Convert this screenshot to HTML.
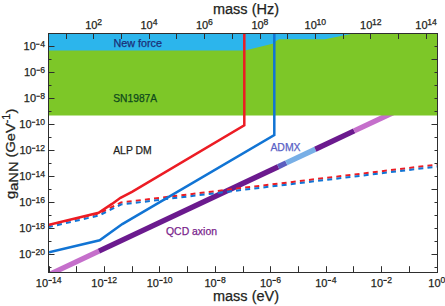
<!DOCTYPE html>
<html><head><meta charset="utf-8"><style>
html,body{margin:0;padding:0;background:#fff;width:445px;height:306px;overflow:hidden}
svg{display:block}
</style></head><body>
<svg width="445" height="306" viewBox="0 0 445 306" font-family='"Liberation Sans", sans-serif'><rect x="0" y="0" width="445" height="306" fill="#fff"/>
<clipPath id="pc"><rect x="49" y="33" width="388" height="239"/></clipPath>
<g clip-path="url(#pc)">
<line x1="40" y1="278.83" x2="98.9" y2="251.11" stroke="#c56fcb" stroke-width="5.3"/>
<line x1="98.9" y1="251.11" x2="278.2" y2="166.73" stroke="#6b1a8e" stroke-width="5.3"/>
<line x1="278.2" y1="166.73" x2="286.3" y2="162.92" stroke="#5c5fc0" stroke-width="5.3"/>
<line x1="286.3" y1="162.92" x2="315.3" y2="149.27" stroke="#78afe6" stroke-width="5.3"/>
<line x1="315.3" y1="149.27" x2="354.2" y2="130.96" stroke="#6b1a8e" stroke-width="5.3"/>
<line x1="354.2" y1="130.96" x2="420" y2="100.00" stroke="#c56fcb" stroke-width="5.3"/>
<rect x="49" y="33" width="388" height="18" fill="#2cb5ec"/>
<polygon points="49,50.5 245,50.5 273.5,43.5 275.4,41.5 279,39.3 325,39.3 356,33 437,33 437,115.5 49,115.5" fill="#7dc728"/>
<polyline points="49,225 99,213.5 121,202.5 437,164.6" fill="none" stroke="#ec1c24" stroke-width="2" stroke-dasharray="5 4.18" stroke-dashoffset="1.0"/>
<polyline points="49,227 99,215.5 121,204.5 437,166.6" fill="none" stroke="#1174d4" stroke-width="2" stroke-dasharray="5 4.18" stroke-dashoffset="1.0"/>
<polyline points="49,224.8 98.6,212.8 112,203.9 120.5,197.8 132,191.8 244.3,125.4 244.3,30" fill="none" stroke="#ec1c24" stroke-width="2.5" stroke-linejoin="miter"/>
<polyline points="49,252.2 99.7,240.3 122.3,224.1 274.3,135.1 274.3,30" fill="none" stroke="#1174d4" stroke-width="2.5" stroke-linejoin="miter"/>
</g>
<rect x="48.5" y="33.5" width="389" height="239" fill="none" stroke="#2e2e2e" stroke-width="1"/>
<path d="M49.5,272v-5.8 M76.5,272v-5.8 M104.5,272v-5.8 M132.5,272v-5.8 M159.5,272v-5.8 M187.5,272v-5.8 M215.5,272v-5.8 M243.5,272v-5.8 M270.5,272v-5.8 M298.5,272v-5.8 M326.5,272v-5.8 M353.5,272v-5.8 M381.5,272v-5.8 M409.5,272v-5.8 M437.5,272v-5.8 M66.5,33.5v5.5 M93.5,33.5v5.5 M121.5,33.5v5.5 M149.5,33.5v5.5 M176.5,33.5v5.5 M204.5,33.5v5.5 M232.5,33.5v5.5 M260.5,33.5v5.5 M287.5,33.5v5.5 M315.5,33.5v5.5 M343.5,33.5v5.5 M370.5,33.5v5.5 M398.5,33.5v5.5 M426.5,33.5v5.5 M48.5,46.5h6 M437.5,46.5h-3 M48.5,59.5h3 M437.5,59.5h-6 M48.5,72.5h6 M437.5,72.5h-3 M48.5,85.5h3 M437.5,85.5h-3 M48.5,98.5h6 M437.5,98.5h-3 M48.5,111.5h3 M437.5,111.5h-3 M48.5,124.5h6 M437.5,124.5h-6 M48.5,137.5h3 M437.5,137.5h-3 M48.5,150.5h6 M437.5,150.5h-3 M48.5,163.5h3 M437.5,163.5h-3 M48.5,176.5h6 M437.5,176.5h-3 M48.5,189.5h3 M437.5,189.5h-6 M48.5,202.5h6 M437.5,202.5h-3 M48.5,215.5h3 M437.5,215.5h-3 M48.5,228.5h6 M437.5,228.5h-3 M48.5,241.5h3 M437.5,241.5h-3 M48.5,254.5h6 M437.5,254.5h-6 M48.5,267.5h3 M437.5,267.5h-3" stroke="#2e2e2e" stroke-width="1" fill="none"/>
<text x="85.17" y="28.50" font-size="11" fill="#231f20" stroke="#231f20" stroke-width="0.25">10</text><text x="97.24" y="24.80" font-size="8.6" fill="#231f20" stroke="#231f20" stroke-width="0.25">2</text>
<text x="140.39" y="28.50" font-size="11" fill="#231f20" stroke="#231f20" stroke-width="0.25">10</text><text x="152.70" y="24.80" font-size="8.6" fill="#231f20" stroke="#231f20" stroke-width="0.25">4</text>
<text x="196.00" y="28.50" font-size="11" fill="#231f20" stroke="#231f20" stroke-width="0.25">10</text><text x="208.07" y="24.80" font-size="8.6" fill="#231f20" stroke="#231f20" stroke-width="0.25">6</text>
<text x="251.40" y="28.50" font-size="11" fill="#231f20" stroke="#231f20" stroke-width="0.25">10</text><text x="263.53" y="24.80" font-size="8.6" fill="#231f20" stroke="#231f20" stroke-width="0.25">8</text>
<text x="304.56" y="28.50" font-size="11" fill="#231f20" stroke="#231f20" stroke-width="0.25">10</text><text x="316.41" y="24.80" font-size="8.6" fill="#231f20" stroke="#231f20" stroke-width="0.25">10</text>
<text x="360.04" y="28.50" font-size="11" fill="#231f20" stroke="#231f20" stroke-width="0.25">10</text><text x="371.88" y="24.80" font-size="8.6" fill="#231f20" stroke="#231f20" stroke-width="0.25">12</text>
<text x="415.37" y="28.50" font-size="11" fill="#231f20" stroke="#231f20" stroke-width="0.25">10</text><text x="427.22" y="24.80" font-size="8.6" fill="#231f20" stroke="#231f20" stroke-width="0.25">14</text>
<text x="35.85" y="286.50" font-size="11" fill="#231f20" stroke="#231f20" stroke-width="0.25">10</text><rect x="48.35" y="279.90" width="3.5" height="1.1" fill="#231f20"/><text x="52.00" y="282.80" font-size="8.6" fill="#231f20" stroke="#231f20" stroke-width="0.25">14</text>
<text x="91.37" y="286.50" font-size="11" fill="#231f20" stroke="#231f20" stroke-width="0.25">10</text><rect x="103.87" y="279.90" width="3.5" height="1.1" fill="#231f20"/><text x="107.52" y="282.80" font-size="8.6" fill="#231f20" stroke="#231f20" stroke-width="0.25">12</text>
<text x="146.75" y="286.50" font-size="11" fill="#231f20" stroke="#231f20" stroke-width="0.25">10</text><rect x="159.25" y="279.90" width="3.5" height="1.1" fill="#231f20"/><text x="162.90" y="282.80" font-size="8.6" fill="#231f20" stroke="#231f20" stroke-width="0.25">10</text>
<text x="204.45" y="286.50" font-size="11" fill="#231f20" stroke="#231f20" stroke-width="0.25">10</text><rect x="216.95" y="279.90" width="3.5" height="1.1" fill="#231f20"/><text x="220.88" y="282.80" font-size="8.6" fill="#231f20" stroke="#231f20" stroke-width="0.25">8</text>
<text x="259.91" y="286.50" font-size="11" fill="#231f20" stroke="#231f20" stroke-width="0.25">10</text><rect x="272.41" y="279.90" width="3.5" height="1.1" fill="#231f20"/><text x="276.28" y="282.80" font-size="8.6" fill="#231f20" stroke="#231f20" stroke-width="0.25">6</text>
<text x="315.15" y="286.50" font-size="11" fill="#231f20" stroke="#231f20" stroke-width="0.25">10</text><rect x="327.66" y="279.90" width="3.5" height="1.1" fill="#231f20"/><text x="331.76" y="282.80" font-size="8.6" fill="#231f20" stroke="#231f20" stroke-width="0.25">4</text>
<text x="370.79" y="286.50" font-size="11" fill="#231f20" stroke="#231f20" stroke-width="0.25">10</text><rect x="383.30" y="279.90" width="3.5" height="1.1" fill="#231f20"/><text x="387.16" y="282.80" font-size="8.6" fill="#231f20" stroke="#231f20" stroke-width="0.25">2</text>
<text x="428.27" y="286.50" font-size="11" fill="#231f20" stroke="#231f20" stroke-width="0.25">10</text><text x="440.44" y="282.80" font-size="8.6" fill="#231f20" stroke="#231f20" stroke-width="0.25">0</text>
<text x="23.56" y="50.30" font-size="11" fill="#231f20" stroke="#231f20" stroke-width="0.25">10</text><rect x="36.07" y="43.70" width="3.5" height="1.1" fill="#231f20"/><text x="40.17" y="46.60" font-size="8.6" fill="#231f20" stroke="#231f20" stroke-width="0.25">4</text>
<text x="23.93" y="76.30" font-size="11" fill="#231f20" stroke="#231f20" stroke-width="0.25">10</text><rect x="36.43" y="69.70" width="3.5" height="1.1" fill="#231f20"/><text x="40.30" y="72.60" font-size="8.6" fill="#231f20" stroke="#231f20" stroke-width="0.25">6</text>
<text x="23.86" y="102.30" font-size="11" fill="#231f20" stroke="#231f20" stroke-width="0.25">10</text><rect x="36.36" y="95.70" width="3.5" height="1.1" fill="#231f20"/><text x="40.29" y="98.60" font-size="8.6" fill="#231f20" stroke="#231f20" stroke-width="0.25">8</text>
<text x="19.32" y="128.30" font-size="11" fill="#231f20" stroke="#231f20" stroke-width="0.25">10</text><rect x="31.83" y="121.70" width="3.5" height="1.1" fill="#231f20"/><text x="35.47" y="124.60" font-size="8.6" fill="#231f20" stroke="#231f20" stroke-width="0.25">10</text>
<text x="19.42" y="154.30" font-size="11" fill="#231f20" stroke="#231f20" stroke-width="0.25">10</text><rect x="31.92" y="147.70" width="3.5" height="1.1" fill="#231f20"/><text x="35.57" y="150.60" font-size="8.6" fill="#231f20" stroke="#231f20" stroke-width="0.25">12</text>
<text x="19.24" y="180.30" font-size="11" fill="#231f20" stroke="#231f20" stroke-width="0.25">10</text><rect x="31.74" y="173.70" width="3.5" height="1.1" fill="#231f20"/><text x="35.39" y="176.60" font-size="8.6" fill="#231f20" stroke="#231f20" stroke-width="0.25">14</text>
<text x="19.36" y="206.30" font-size="11" fill="#231f20" stroke="#231f20" stroke-width="0.25">10</text><rect x="31.87" y="199.70" width="3.5" height="1.1" fill="#231f20"/><text x="35.51" y="202.60" font-size="8.6" fill="#231f20" stroke="#231f20" stroke-width="0.25">16</text>
<text x="19.36" y="232.30" font-size="11" fill="#231f20" stroke="#231f20" stroke-width="0.25">10</text><rect x="31.86" y="225.70" width="3.5" height="1.1" fill="#231f20"/><text x="35.51" y="228.60" font-size="8.6" fill="#231f20" stroke="#231f20" stroke-width="0.25">18</text>
<text x="19.10" y="258.30" font-size="11" fill="#231f20" stroke="#231f20" stroke-width="0.25">10</text><rect x="31.60" y="251.70" width="3.5" height="1.1" fill="#231f20"/><text x="35.47" y="254.60" font-size="8.6" fill="#231f20" stroke="#231f20" stroke-width="0.25">20</text>
<text x="213" y="14.4" font-size="14" fill="#231f20" stroke="#231f20" stroke-width="0.25" textLength="66" lengthAdjust="spacingAndGlyphs">mass (Hz)</text>
<text x="213" y="300.8" font-size="14" fill="#231f20" stroke="#231f20" stroke-width="0.25" textLength="66" lengthAdjust="spacingAndGlyphs">mass (eV)</text>
<text transform="translate(14.7,198.9) rotate(-90) scale(1.10,1)" font-size="13.3" fill="#231f20" stroke="#231f20" stroke-width="0.25">g<tspan dy="3">aNN</tspan><tspan dy="-3"> (GeV</tspan><tspan font-size="10" dy="-4.9">-1</tspan><tspan dy="4.9">)</tspan></text>
<text x="113.5" y="47.3" font-size="10.8" fill="#1b2f78" stroke="#1b2f78" stroke-width="0.25" textLength="48.5" lengthAdjust="spacingAndGlyphs">New force</text>
<text x="113.2" y="101.8" font-size="10.3" fill="#0f4a1c" stroke="#0f4a1c" stroke-width="0.25" textLength="44" lengthAdjust="spacingAndGlyphs">SN1987A</text>
<text x="113.2" y="154.2" font-size="10.3" fill="#231f20" stroke="#231f20" stroke-width="0.25" textLength="38.5" lengthAdjust="spacingAndGlyphs">ALP DM</text>
<text x="270.4" y="150.6" font-size="10.5" fill="#5a62c6" stroke="#5a62c6" stroke-width="0.25" textLength="30.2" lengthAdjust="spacingAndGlyphs">ADMX</text>
<text x="166" y="234.8" font-size="10.3" fill="#7a1f8c" stroke="#7a1f8c" stroke-width="0.25" textLength="51" lengthAdjust="spacingAndGlyphs">QCD axion</text></svg>
</body></html>
